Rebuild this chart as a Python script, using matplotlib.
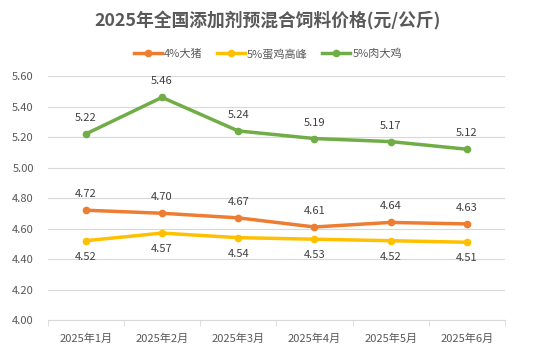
import matplotlib.pyplot as plt
import numpy as np

plt.rcParams['font.family'] = ['Noto Sans CJK SC', 'DejaVu Sans']

months = ['2025年1月', '2025年2月', '2025年3月', '2025年4月', '2025年5月', '2025年6月']
pig = [4.72, 4.70, 4.67, 4.61, 4.64, 4.63]
layer = [4.52, 4.57, 4.54, 4.53, 4.52, 4.51]
broiler = [5.22, 5.46, 5.24, 5.19, 5.17, 5.12]

names = ['4%大猪', '5%蛋鸡高峰', '5%肉大鸡']
colors = ['#ED7D31', '#FFC000', '#70AD47']
offsets = [11.5, -11.5, 11.5]  # label offsets in points (above / below)

fig = plt.figure(figsize=(5.36, 3.62), dpi=100)
ax = fig.add_axes([0.089, 0.116, 0.853, 0.674])

x = np.arange(len(months))
for vals, name, c, off in zip([pig, layer, broiler], names, colors, offsets):
    ax.plot(x, vals, color=c, lw=2.5, marker='o', ms=4.5, label=name)
    for xi, v in zip(x, vals):
        ax.annotate(f'{v:.2f}', (xi, v), xytext=(0, off), textcoords='offset points',
                    ha='center', va='center', fontsize=8, color='#404040')

ax.set_xlim(-0.5, len(months) - 0.5)
ax.set_ylim(4.0, 5.6)
ax.set_yticks(np.arange(4.0, 5.61, 0.2))
ax.set_yticklabels([f'{t:.2f}' for t in np.arange(4.0, 5.61, 0.2)], fontsize=8, color='#595959')
ax.set_xticks(x)
ax.set_xticklabels(months, fontsize=8, color='#595959')
ax.tick_params(axis='x', length=0, pad=10)
ax.set_xticks(np.arange(-0.5, len(months), 1), minor=True)
ax.tick_params(axis='x', which='minor', length=4, color='#D9D9D9')
ax.tick_params(axis='y', length=0, pad=10)
ax.grid(axis='y', color='#D9D9D9', lw=0.8)
ax.set_axisbelow(True)
for s in ['top', 'right', 'left']:
    ax.spines[s].set_visible(False)
ax.spines['bottom'].set_color('#D9D9D9')

fig.suptitle('2025年全国添加剂预混合饲料价格(元/公斤)', y=0.968, fontsize=12.8,
             fontweight='bold', color='#595959')
fig.legend(loc='center', bbox_to_anchor=(0.5, 0.851), ncol=3, frameon=False,
           fontsize=8, handlelength=2.5, columnspacing=1.3, handletextpad=0.2,
           labelcolor='#595959')

fig.savefig('out.png', dpi=100)
